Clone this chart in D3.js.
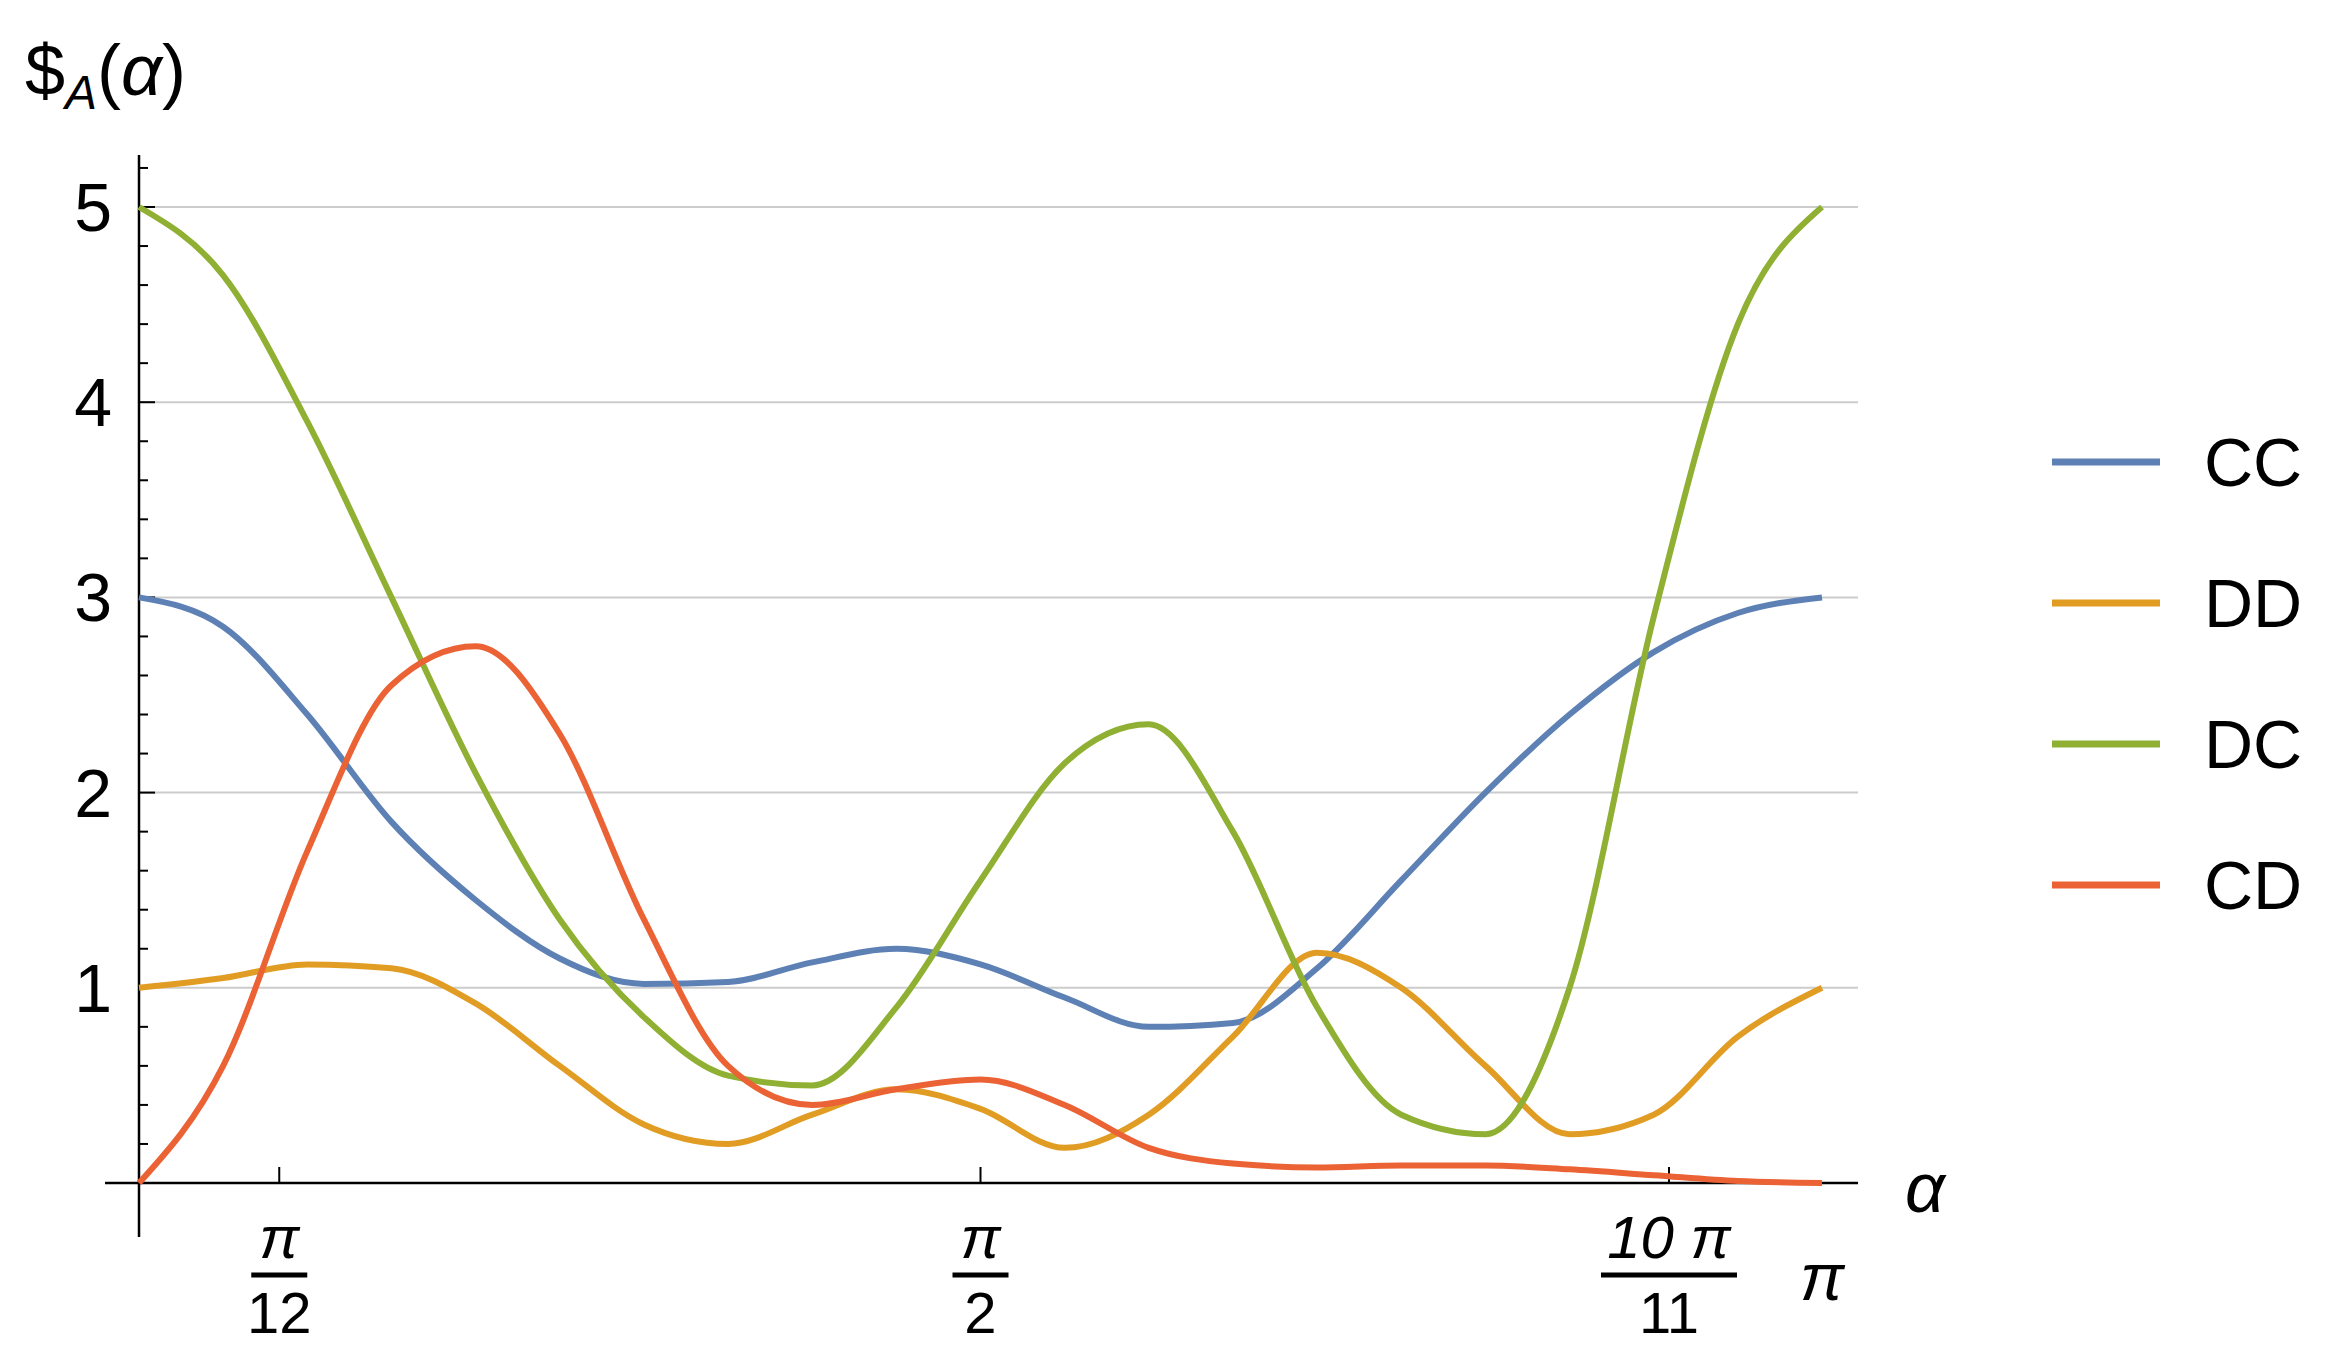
<!DOCTYPE html>
<html><head><meta charset="utf-8">
<script src="https://cdn.jsdelivr.net/npm/d3@7"></script>
<style>body{margin:0;background:#fff}text{font-family:"Liberation Sans",Arial,sans-serif}</style>
</head><body>
<svg id="c" width="2339" height="1365"></svg>
<script>
'use strict'
// x in units of pi
const xs = [0,0.05,0.1,0.15,0.2,0.25,0.3,0.35,0.4,0.45,0.5,0.55,0.6,0.65,0.7,0.75,0.8,0.85,0.9,0.95,1]
const cc = [3,2.85,2.4,1.85,1.45,1.15,1.02,1.03,1.13,1.2,1.12,0.95,0.8,0.82,1.1,1.55,2.0,2.4,2.72,2.92,3]
const dd = [1,1.05,1.12,1.1,0.92,0.6,0.3,0.2,0.35,0.48,0.38,0.18,0.35,0.75,1.18,1.0,0.6,0.25,0.35,0.75,1]
const dc = [5,4.65,3.9,3.0,2.1,1.35,0.85,0.55,0.5,0.9,1.55,2.15,2.35,1.8,0.9,0.35,0.25,1.0,2.9,4.4,5]
const cd = [0,0.6,1.7,2.55,2.75,2.3,1.35,0.6,0.4,0.48,0.53,0.4,0.18,0.1,0.08,0.09,0.09,0.07,0.04,0.01,0]
const names = ['CC','DD','DC','CD']
const colors = ['#5E81B5','#E19C24','#8FB032','#EB6235']
const series = [cc,dd,dc,cd]
const yTicks = [1,2,3,4,5]

const svg = d3.select('#c')
const x = d3.scaleLinear().domain([0,1]).range([139,1822])
const y = d3.scaleLinear().domain([0,5]).range([1183,207])

svg.selectAll('.grid').data(yTicks).enter().append('line')
    .attr('x1',139).attr('x2',1858).attr('y1',d=>y(d)).attr('y2',d=>y(d))
    .attr('stroke','#ccc').attr('stroke-width',2)

// axes
svg.append('line').attr('x1',105).attr('x2',1858).attr('y1',y(0)).attr('y2',y(0)).attr('stroke','#000').attr('stroke-width',2.5)
svg.append('line').attr('x1',139).attr('x2',139).attr('y1',155).attr('y2',1237).attr('stroke','#000').attr('stroke-width',2.5)
d3.range(0,5.21,0.2).forEach(v=>{
    const major = Math.abs(v-Math.round(v))<1e-6
    svg.append('line').attr('x1',139).attr('x2',139+(major?16:9)).attr('y1',y(v)).attr('y2',y(v)).attr('stroke','#000').attr('stroke-width',2)
})
svg.selectAll('.yl').data(yTicks).enter().append('text')
    .attr('x',112).attr('y',d=>y(d)+24).attr('text-anchor','end').attr('font-size',68).text(d=>d)

const fr = [[1/12,'12'],[1/2,'2'],[10/11,'11']]
fr.forEach(([v,den],i)=>{
    const px = x(v)
    svg.append('line').attr('x1',px).attr('x2',px).attr('y1',y(0)).attr('y2',y(0)-16).attr('stroke','#000').attr('stroke-width',2)
    svg.append('text').attr('x',px).attr('y',1258).attr('text-anchor','middle').attr('font-size',60).attr('font-style','italic')
        .text(i==2?'10 π':'π')
    svg.append('line').attr('x1',px-(i==2?68:28)).attr('x2',px+(i==2?68:28)).attr('y1',1275).attr('y2',1275).attr('stroke','#000').attr('stroke-width',5)
    svg.append('text').attr('x',px).attr('y',1333).attr('text-anchor','middle').attr('font-size',58).text(den)
})
svg.append('text').attr('x',1822).attr('y',1300).attr('text-anchor','middle').attr('font-size',66).attr('font-style','italic').text('π')
svg.append('text').attr('x',1905).attr('y',1212).attr('font-size',70).attr('font-style','italic').text('α')
const t = svg.append('text').attr('x',25).attr('y',95).attr('font-size',72)
t.append('tspan').text('$')
t.append('tspan').attr('font-size',48).attr('font-style','italic').attr('dy',14).text('A')
t.append('tspan').attr('dy',-14).text('(')
t.append('tspan').attr('font-style','italic').text('α')
t.append('tspan').text(')')

const line = d3.line().x((d,i)=>x(xs[i])).y(d=>y(d)).curve(d3.curveMonotoneX)
// draw order so red/green on top
;[0,1,2,3].forEach(k=>{
    svg.append('path').attr('d',line(series[k])).attr('fill','none')
        .attr('stroke',colors[k]).attr('stroke-width',6)
})

const lg = svg.selectAll('.lg').data(names).enter().append('g')
    .attr('transform',(d,i)=>`translate(2052,${462+i*141})`)
lg.append('line').attr('x1',0).attr('x2',108).attr('stroke',(d,i)=>colors[i]).attr('stroke-width',7)
lg.append('text').attr('x',152).attr('y',24).attr('font-size',68).text(d=>d)
</script>
</body></html>
